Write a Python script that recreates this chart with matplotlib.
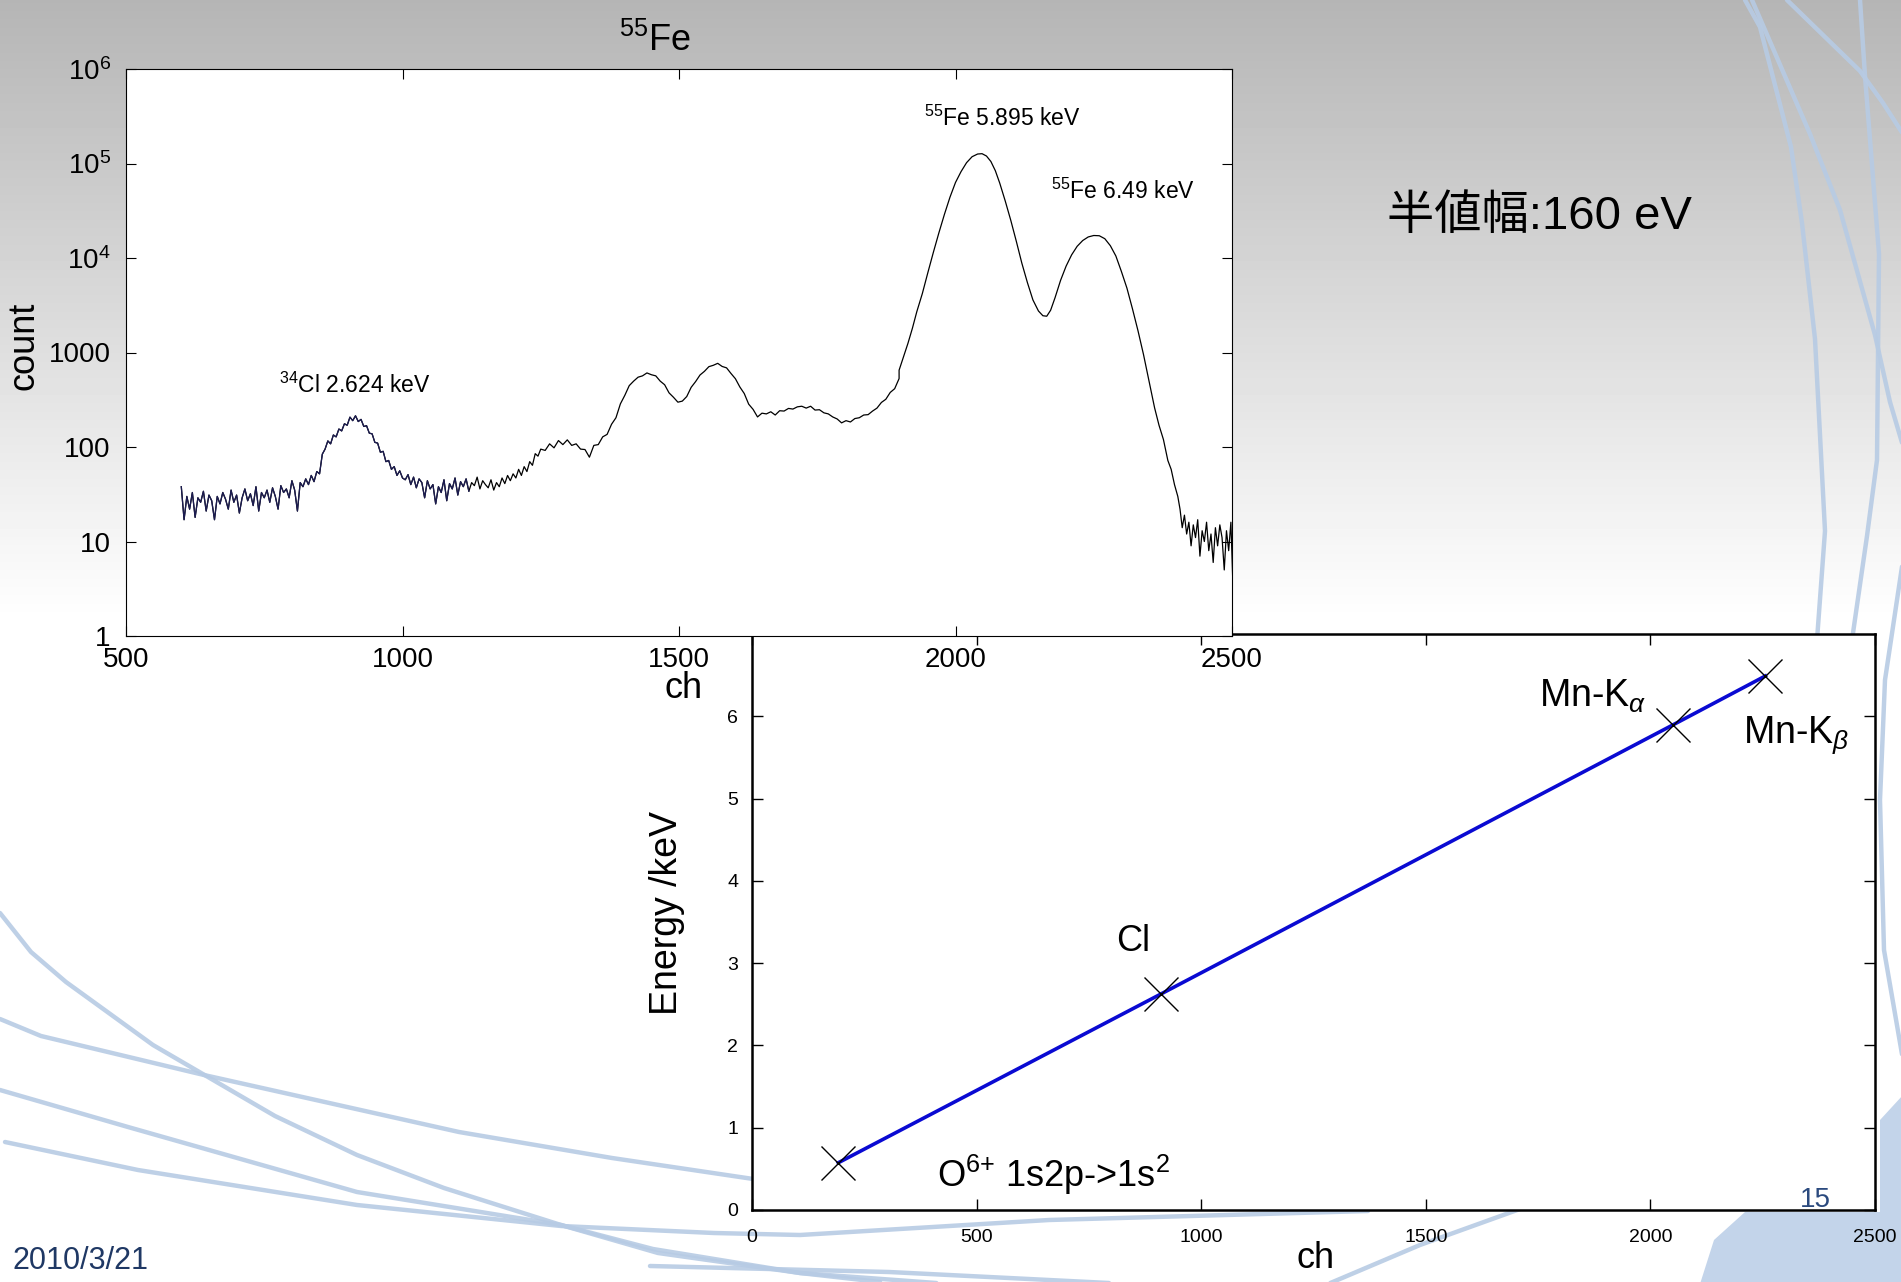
import numpy as np
import matplotlib.pyplot as plt
from matplotlib.ticker import NullLocator

plt.rcParams['font.family'] = ['Liberation Sans', 'Noto Sans CJK JP', 'DejaVu Sans']
plt.rcParams['mathtext.fontset'] = 'custom'
plt.rcParams['mathtext.rm'] = 'Liberation Sans'
plt.rcParams['mathtext.it'] = 'Liberation Sans:italic'
plt.rcParams['mathtext.bf'] = 'Liberation Sans:bold'

# --- 55Fe spectrum ---
ch_a = np.arange(600, 850, 5)
cnt_a = [38, 17, 30, 22, 33, 18, 29, 26, 34, 21, 31, 27, 17, 30, 25, 33, 28, 22, 35, 26,
         31, 20, 29, 36, 27, 32, 24, 38, 21, 33, 29, 35, 26, 37, 30, 22, 39, 33, 36, 29,
         44, 35, 21, 42, 38, 46, 40, 50, 43, 55]
ch_b = np.arange(850, 1005, 5)
cnt_b = [52, 84, 95, 116, 108, 134, 128, 155, 148, 176, 170, 207, 190, 214, 186, 196,
         165, 168, 140, 138, 112, 110, 88, 90, 70, 72, 58, 62, 50, 56, 47]
ch_c = np.arange(1005, 1255, 5)
cnt_c = [45, 51, 40, 48, 37, 46, 42, 29, 44, 36, 40, 25, 38, 33, 45, 27, 41, 36, 47, 31,
         43, 38, 46, 34, 42, 39, 48, 36, 44, 40, 37, 45, 35, 42, 38, 47, 41, 50, 44, 52,
         47, 58, 50, 62, 55, 70, 64, 85, 80, 95]
ch_d = np.arange(1258, 1906, 8)
cnt_d = [92, 108, 98, 117, 106, 119, 104, 108, 95, 94, 78, 104, 106, 128, 136, 174, 204,
         286, 352, 446, 498, 548, 566, 608, 582, 566, 498, 456, 374, 336, 298, 306, 342,
         428, 492, 578, 632, 708, 732, 768, 712, 688, 600, 528, 432, 368, 284, 250, 208,
         228, 224, 236, 218, 242, 240, 256, 252, 266, 270, 258, 270, 246, 248, 230, 224,
         208, 198, 180, 190, 184, 200, 204, 218, 220, 240, 258, 296, 320, 378, 414, 530]
ch_e = [1898, 1906, 1914, 1922, 1930, 1940, 1950, 1960, 1970, 1980, 1990, 2000, 2010,
        2020, 2030, 2040, 2048, 2056, 2064, 2072, 2080, 2090, 2100, 2110, 2120, 2130,
        2140, 2150, 2158, 2165, 2172, 2180, 2190, 2200, 2210, 2220, 2230, 2240, 2250,
        2260, 2270, 2280, 2290, 2300, 2310, 2320, 2330, 2340, 2350, 2360, 2368, 2376,
        2384, 2390, 2396, 2402, 2406]
cnt_e = [650, 900, 1250, 1800, 2700, 4200, 7000, 11500, 18500, 29000, 44000, 63000,
         82000, 102000, 118000, 126000, 127000, 120000, 105000, 84000, 62000, 40000,
         25000, 15000, 8800, 5500, 3600, 2750, 2450, 2420, 2800, 3800, 5800, 8200,
         10800, 13300, 15300, 16700, 17300, 17200, 16000, 13500, 10500, 7200, 4800,
         2900, 1700, 950, 500, 260, 170, 120, 72, 58, 40, 30, 22]
ch_f = np.arange(2410, 2506, 4)
cnt_f = [14, 19, 12, 16, 9, 15, 11, 17, 7, 13, 10, 16, 8, 12, 6, 14, 9, 15, 11, 5,
         13, 8, 16, 3]

spec_ch = np.concatenate([ch_a, ch_b, ch_c, ch_d, ch_e, ch_f])
spec_cnt = np.concatenate([cnt_a, cnt_b, cnt_c, cnt_d, cnt_e, cnt_f]).astype(float)

# --- energy calibration ---
cal_ch = [192, 910, 2050, 2256]
cal_energy = [0.574, 2.624, 5.895, 6.49]

count_ticks = [1, 10, 100, 1000, 1e4, 1e5, 1e6]
count_labels = ['1', '10', '100', '1000', '$10^{4}$', '$10^{5}$', '$10^{6}$']

W, H = 1901, 1282
fig = plt.figure(figsize=(W / 100, H / 100), dpi=100)


def fx(x):
    return x / W


def fy(y):
    return 1 - y / H


# slide background: grey-to-white gradient and light blue swooshes
bg = fig.add_axes([0, 0, 1, 1], zorder=-10)
rows = np.arange(H)
shade = np.clip(0.71 + 0.29 * rows / 620, 0, 1)
bg.imshow(np.repeat(shade[:, None], 2, axis=1), cmap='gray', vmin=0, vmax=1,
          extent=[0, W, H, 0], aspect='auto')
swooshes = [
    [(0, 913), (31, 952), (66, 982), (153, 1045), (275, 1116), (357, 1155), (444, 1188),
     (561, 1225), (653, 1249), (800, 1273), (880, 1282)],
    [(0, 1019), (41, 1036), (204, 1075), (459, 1132), (612, 1158), (760, 1180)],
    [(0, 1090), (128, 1127), (357, 1192), (561, 1225), (658, 1253), (800, 1273), (950, 1284)],
    [(5, 1142), (138, 1170), (357, 1205), (561, 1226), (714, 1233), (800, 1235),
     (1049, 1220), (1368, 1211)],
    [(650, 1266), (889, 1272), (1129, 1284)],
    [(1328, 1284), (1420, 1245), (1520, 1209)],
    [(1745, 0), (1760, 27), (1791, 147), (1802, 223), (1815, 339), (1825, 531), (1817, 640)],
    [(1752, 0), (1810, 134), (1840, 210), (1875, 335), (1890, 402), (1903, 446)],
    [(1860, 0), (1865, 76), (1879, 254), (1877, 460), (1867, 536), (1852, 640)],
    [(1787, 0), (1860, 71), (1883, 103), (1903, 134)],
    [(1903, 560), (1885, 680), (1880, 800), (1884, 950), (1903, 1060)],
]
for pts in swooshes:
    xs, ys = zip(*pts)
    bg.plot(xs, ys, color='#b7cbe4', lw=3.2, alpha=0.9, solid_capstyle='round')
bg.fill([1700, 1714, 1745, 1880, 1880, 1903, 1903], [1284, 1240, 1212, 1212, 1120, 1095, 1284],
        color='#c3d4ea', lw=0)
bg.set_xlim(0, W)
bg.set_ylim(H, 0)
bg.axis('off')

# --- calibration plot (lower right) ---
ax2 = fig.add_axes([fx(752), fy(1210), (1875 - 752) / W, (1210 - 634) / H])
ax2.plot(cal_ch, cal_energy, color='#0a0ad2', lw=2.6)
ax2.plot(cal_ch, cal_energy, ls='none', marker='x', ms=25, mew=1.0, color='black')
ax2.set_xlim(0, 2500)
ax2.set_ylim(0, 7)
ax2.set_xticks([0, 500, 1000, 1500, 2000, 2500])
ax2.set_yticks([0, 1, 2, 3, 4, 5, 6])
ax2.tick_params(direction='in', length=8, width=1, top=True, right=True, labelsize=14)
ax2.tick_params(axis='x', pad=14)
ax2.tick_params(axis='y', pad=10)
for sp in ax2.spines.values():
    sp.set_linewidth(1.8)
ax2.text(412, 0.28, 'O$^{6{+}}$ 1s2p->1s$^{2}$', fontsize=26, va='baseline')
ax2.text(848, 3.15, 'Cl', fontsize=26, ha='center', va='baseline')
ax2.text(1753, 6.12, 'Mn-K$_{\\alpha}$', fontsize=27, va='baseline')
ax2.text(2206, 5.68, 'Mn-K$_{\\beta}$', fontsize=27, va='baseline')

# --- 55Fe spectrum (upper left) ---
ax = fig.add_axes([fx(126), fy(636), (1232 - 126) / W, (636 - 69) / H])
ax.plot(spec_ch, spec_cnt, color='black', lw=0.9)
left = spec_ch <= 1120
ax.plot(spec_ch[left], spec_cnt[left], color='#1c1c52', lw=0.9)
ax.set_yscale('log')
ax.set_xlim(500, 2500)
ax.set_ylim(1, 1e6)
ax.set_yticks(count_ticks)
ax.set_yticklabels(count_labels)
ax.yaxis.set_minor_locator(NullLocator())
ax.set_xticks([500, 1000, 1500, 2000, 2500])
ax.tick_params(direction='in', length=7, width=0.8, top=True, right=True, labelsize=20)
ax.tick_params(axis='x', pad=8)
ax.tick_params(axis='y', pad=11)
for sp in ax.spines.values():
    sp.set_linewidth(0.8)
ax.text(777, 453, '$^{34}$Cl 2.624 keV', fontsize=16.5, va='center')
ax.text(1943, 2.99e5, '$^{55}$Fe 5.895 keV', fontsize=16.5, va='center')
ax.text(2173, 5.1e4, '$^{55}$Fe 6.49 keV', fontsize=16.5, va='center')

# --- slide texts ---
fig.text(fx(655), fy(51), '$^{55}$Fe', fontsize=26, ha='center', va='baseline')
fig.text(fx(24), fy(346), 'count', fontsize=26, rotation=90, ha='center', va='center')
fig.text(fx(684), fy(688), 'ch', fontsize=26, ha='center', va='center')
fig.text(fx(667), fy(913), 'Energy /keV', fontsize=27, rotation=90, ha='center', va='center')
fig.text(fx(1316), fy(1258), 'ch', fontsize=26, ha='center', va='center')
fig.text(fx(1387), fy(217), '半値幅:160 eV', fontsize=34, va='center')
fig.text(fx(1815), fy(1200), '15', fontsize=20, color='#2b4a7e', ha='center', va='center')
fig.text(fx(12), fy(1261), '2010/3/21', fontsize=22, color='#1f3864', va='center')

fig.savefig('out.png', dpi=100)
